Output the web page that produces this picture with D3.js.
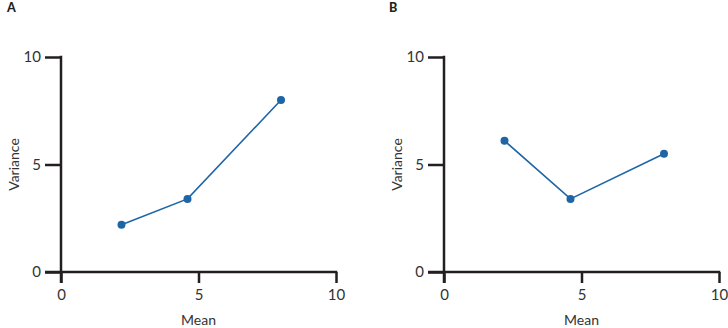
<!DOCTYPE html>
<html><head><meta charset="utf-8">
<script src="https://cdn.jsdelivr.net/npm/d3@7"></script>
<style>
html,body{margin:0;padding:0;background:#fff;}
svg{display:block;font-family:Lato,"Open Sans",sans-serif;}
</style></head>
<body><svg id="c" width="728" height="328"></svg>
<script>
const panelLabels = ["A", "B"];
const meanA = [2.2, 4.6, 8.0];
const varA  = [2.2, 3.4, 8.0];
const meanB = [2.2, 4.6, 8.0];
const varB  = [6.1, 3.4, 5.5];
const tickValues = [0, 5, 10];
const xTitle = "Mean";
const yTitle = "Variance";

const svg = d3.select("#c");
const lineColor = "#1d65a6";
const axisColor = "#231f20";

const panels = [
  {label: panelLabels[0], mx: meanA, vy: varA, ox: 61, lx: 7},
  {label: panelLabels[1], mx: meanB, vy: varB, ox: 444, lx: 389}
];

panels.forEach(p => {
  const g = svg.append("g");
  const x = d3.scaleLinear().domain([0, 10]).range([p.ox, p.ox + 275]);
  const y = d3.scaleLinear().domain([0, 10]).range([272, 57]);

  g.append("text").attr("x", p.lx).attr("y", 12)
    .attr("font-size", 12.5).attr("font-weight", 900).attr("fill", axisColor)
    .attr("font-family", "Lato, sans-serif").text(p.label);

  const yAx = g.append("g").attr("transform", `translate(${p.ox},0)`)
    .call(d3.axisLeft(y).tickValues(tickValues).tickSize(16).tickPadding(4).tickFormat(d3.format("d")));
  const xAx = g.append("g").attr("transform", `translate(0,272)`)
    .call(d3.axisBottom(x).tickValues(tickValues).tickSize(11).tickPadding(6).tickFormat(d3.format("d")));
  [yAx, xAx].forEach(a => {
    a.select(".domain").remove();
    a.selectAll("line").attr("stroke", axisColor).attr("stroke-width", 2.5);
    a.selectAll("text").attr("fill", "#333").attr("font-size", 15).attr("font-family", "Lato, sans-serif");
  });
  g.append("line").attr("x1", p.ox).attr("x2", p.ox).attr("y1", y(10) - 1.25).attr("y2", 283)
    .attr("stroke", axisColor).attr("stroke-width", 2.5);
  g.append("line").attr("x1", p.ox - 16).attr("x2", x(10) + 1.25).attr("y1", 272).attr("y2", 272)
    .attr("stroke", axisColor).attr("stroke-width", 2.5);

  g.append("text").attr("x", (x(0) + x(10)) / 2).attr("y", 325)
    .attr("text-anchor", "middle").attr("font-size", 14).attr("fill", "#333").text(xTitle);
  g.append("text").attr("transform", `translate(${p.ox - 42},${y(5)}) rotate(-90)`)
    .attr("text-anchor", "middle").attr("font-size", 14).attr("fill", "#333").text(yTitle);

  const data = p.mx.map((m, i) => ({m, v: p.vy[i]}));
  g.append("path").datum(data)
    .attr("d", d3.line().x(d => x(d.m)).y(d => y(d.v)))
    .attr("fill", "none").attr("stroke", lineColor).attr("stroke-width", 1.6);
  g.selectAll("circle").data(data).join("circle")
    .attr("cx", d => x(d.m)).attr("cy", d => y(d.v)).attr("r", 4)
    .attr("fill", lineColor);
});
</script></body></html>
